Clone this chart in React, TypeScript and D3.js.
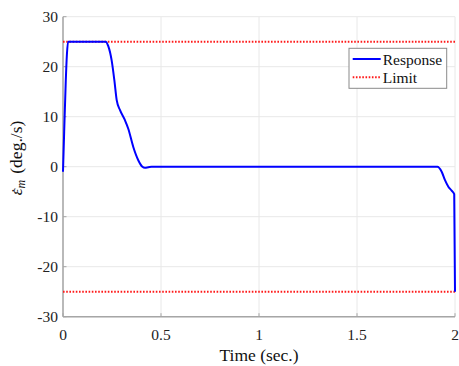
import React from "react";
import * as d3 from "d3";

const timeSec = [0, 0.006, 0.014, 0.02, 0.026, 0.218, 0.231, 0.248, 0.262, 0.274, 0.291, 0.316, 0.333, 0.359, 0.384, 0.405, 0.418, 0.435, 0.452, 1.91, 1.932, 1.949, 1.966, 1.983, 1.996, 2.0];
const response = [-1, 7, 17, 22.5, 25, 25, 24.1, 21.3, 17.3, 13.3, 11.3, 9.3, 7.6, 3.9, 1.3, 0, -0.2, -0.1, 0, 0, -1, -2.7, -4, -4.8, -5.5, -25];
const limitValues = [25, -25];
const xTicks = [0, 0.5, 1, 1.5, 2];
const yTicks = [-30, -20, -10, 0, 10, 20, 30];
const legendLabels = ["Response", "Limit"];

const W = 459, H = 366;
const M = { left: 63, right: 455, top: 16.7, bottom: 316.7 };
const FONT = "Liberation Serif, Tinos, Times New Roman, DejaVu Serif, serif";

export default function App() {
  const x = d3.scaleLinear().domain([0, 2]).range([M.left, M.right]);
  const y = d3.scaleLinear().domain([-30, 30]).range([M.bottom, M.top]);
  const pts: [number, number][] = timeSec.map((t, i) => [t, response[i]]);
  const line = d3.line<[number, number]>().x(d => x(d[0])).y(d => y(d[1])).curve(d3.curveMonotoneX);
  const axisColor = "#a6a6a6";
  const gridColor = "#e8e8e8";
  const ts = { fontFamily: FONT };
  return (
    <svg width={W} height={H} style={{ position: "absolute", left: 0, top: 0, background: "#fff", fontFamily: FONT }}>
      <rect x={0} y={0} width={W} height={H} fill="#fff" />
      {xTicks.map(t => (
        <line key={"gx" + t} x1={x(t)} x2={x(t)} y1={M.top} y2={M.bottom} stroke={gridColor} strokeWidth={1} />
      ))}
      {yTicks.map(t => (
        <line key={"gy" + t} x1={M.left} x2={M.right} y1={y(t)} y2={y(t)} stroke={gridColor} strokeWidth={1} />
      ))}
      <line x1={M.left} x2={M.left} y1={M.top} y2={M.bottom} stroke={axisColor} strokeWidth={1.5} />
      <line x1={M.left} x2={M.right} y1={M.bottom} y2={M.bottom} stroke={axisColor} strokeWidth={1.5} />
      {xTicks.map(t => (
        <g key={"xt" + t}>
          <line x1={x(t)} x2={x(t)} y1={M.bottom} y2={M.bottom - 3.5} stroke={axisColor} strokeWidth={1} />
          <text x={x(t)} y={340} fontSize={15.5} textAnchor="middle" fill="#222" style={ts}>{t}</text>
        </g>
      ))}
      {yTicks.map(t => (
        <g key={"yt" + t}>
          <line x1={M.left} x2={M.left + 3.5} y1={y(t)} y2={y(t)} stroke={axisColor} strokeWidth={1} />
          <text x={58} y={y(t) + 5.5} fontSize={15.5} textAnchor="end" fill="#222" style={ts}>{t}</text>
        </g>
      ))}
      {limitValues.map(v => (
        <line key={"lim" + v} x1={x(0)} x2={x(2)} y1={y(v)} y2={y(v)} stroke="#ff1a1a" strokeWidth={2} strokeDasharray="1.6 1.6" />
      ))}
      <path d={line(pts) || ""} fill="none" stroke="#0000ff" strokeWidth={2} strokeLinejoin="round" />
      <rect x={349} y={48.3} width={97.7} height={40} fill="#fff" stroke="#8a8a8a" strokeWidth={1} />
      <line x1={352.7} x2={380.7} y1={59} y2={59} stroke="#0000ff" strokeWidth={2} />
      <line x1={352.7} x2={380.7} y1={77.3} y2={77.3} stroke="#ff1a1a" strokeWidth={2} strokeDasharray="1.6 1.6" />
      <text x={382.7} y={64.5} fontSize={15.5} fill="#111" style={ts}>{legendLabels[0]}</text>
      <text x={382.7} y={82.8} fontSize={15.5} fill="#111" style={ts}>{legendLabels[1]}</text>
      <text x={259} y={361} fontSize={17.5} textAnchor="middle" fill="#111" style={ts}>Time (sec.)</text>
      <g transform="translate(22,158) rotate(-90)">
        <text x={0} y={0} fontSize={17.5} textAnchor="middle" fill="#111" style={ts}>
          <tspan fontStyle="italic">{"\u03B5"}</tspan>
          <tspan fontStyle="italic" fontSize={12} dy={3}>m</tspan>
          <tspan dy={-3} dx={6}>(deg./s)</tspan>
        </text>
        <text x={-32.5} y={1} fontSize={17.5} textAnchor="middle" fill="#111" style={ts}>{"\u02D9"}</text>
      </g>
    </svg>
  );
}
